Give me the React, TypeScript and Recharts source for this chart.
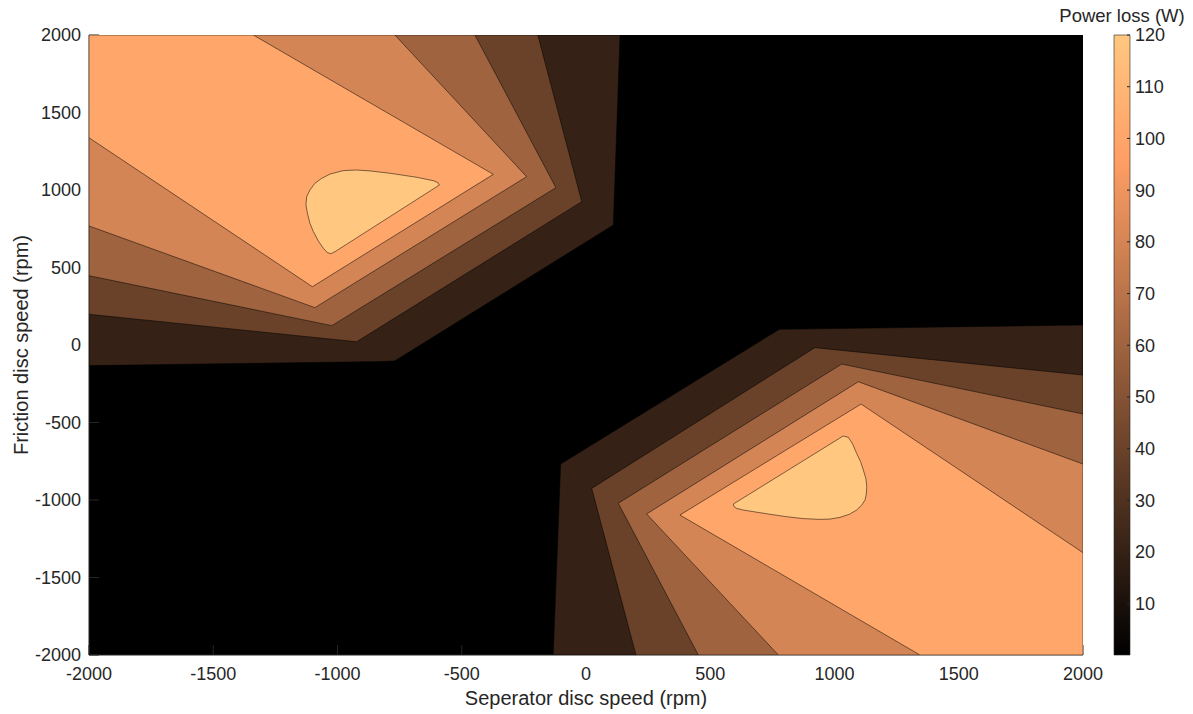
import React from 'react';
import { ComposedChart, Scatter, XAxis, YAxis, CartesianGrid, ReferenceArea } from 'recharts';

const FONT = '"Liberation Sans", Arial, Helvetica, sans-serif';
const AXIS_COLOR = '#262626';

const xTicks = [-2000, -1500, -1000, -500, 0, 500, 1000, 1500, 2000];
const yTicks = [-2000, -1500, -1000, -500, 0, 500, 1000, 1500, 2000];
const colorbarTicks = [10, 20, 30, 40, 50, 60, 70, 80, 90, 100, 110, 120];
const colorbarDomain = [0.1, 120];

// copper colormap, one colour per filled band (band 0 = black background)
const bandColors = ['#000000', '#352115', '#6A422A', '#9F643F', '#D48555', '#FFA66A', '#FFC77F'];

// contour regions (value >= level), in rpm
const level1TopLeft = [
  { x: -2000, y: -133 }, { x: -830, y: -107 }, { x: -770, y: -103 }, { x: 110, y: 774 },
  { x: 137, y: 2000 }, { x: -2000, y: 2000 }, { x: -2000, y: -133 },
];
const level1BottomRight = [
  { x: -132, y: -2000 }, { x: -102, y: -768 }, { x: 778, y: 101 }, { x: 2000, y: 129 },
  { x: 2000, y: -2000 }, { x: -132, y: -2000 },
];
const level2TopLeft = [
  { x: -2000, y: 198 }, { x: -923, y: 21 }, { x: -17, y: 925 }, { x: -194, y: 2000 },
  { x: -2000, y: 2000 }, { x: -2000, y: 198 },
];
const level2BottomRight = [
  { x: 201, y: -2000 }, { x: 23, y: -925 }, { x: 921, y: -17 }, { x: 2000, y: -194 },
  { x: 2000, y: -2000 }, { x: 201, y: -2000 },
];
const level3TopLeft = [
  { x: -2000, y: 447 }, { x: -1023, y: 125 }, { x: -121, y: 1015 }, { x: -447, y: 2000 },
  { x: -2000, y: 2000 }, { x: -2000, y: 447 },
];
const level3BottomRight = [
  { x: 452, y: -2000 }, { x: 130, y: -1021 }, { x: 1029, y: -123 }, { x: 2000, y: -445 },
  { x: 2000, y: -2000 }, { x: 452, y: -2000 },
];
const level4TopLeft = [
  { x: -2000, y: 768 }, { x: -1091, y: 241 }, { x: -239, y: 1086 }, { x: -769, y: 2000 },
  { x: -2000, y: 2000 }, { x: -2000, y: 768 },
];
const level4BottomRight = [
  { x: 774, y: -2000 }, { x: 244, y: -1090 }, { x: 1096, y: -237 }, { x: 2000, y: -768 },
  { x: 2000, y: -2000 }, { x: 774, y: -2000 },
];
const level5TopLeft = [
  { x: -2000, y: 1337 }, { x: -1101, y: 376 }, { x: -373, y: 1101 }, { x: -1339, y: 2000 },
  { x: -2000, y: 2000 }, { x: -2000, y: 1337 },
];
const level5BottomRight = [
  { x: 1344, y: -2000 }, { x: 378, y: -1097 }, { x: 1107, y: -381 }, { x: 2000, y: -1340 },
  { x: 2000, y: -2000 }, { x: 1344, y: -2000 },
];
const level6TopLeft = [
  { x: -590, y: 1032 }, { x: -596, y: 1047 }, { x: -614, y: 1060 }, { x: -681, y: 1082 },
  { x: -789, y: 1108 }, { x: -869, y: 1123 }, { x: -923, y: 1129 }, { x: -977, y: 1125 },
  { x: -1030, y: 1103 }, { x: -1064, y: 1075 }, { x: -1091, y: 1043 }, { x: -1111, y: 1000 },
  { x: -1124, y: 957 }, { x: -1127, y: 903 }, { x: -1121, y: 850 }, { x: -1111, y: 785 },
  { x: -1097, y: 731 }, { x: -1077, y: 671 }, { x: -1057, y: 624 }, { x: -1041, y: 596 },
  { x: -1027, y: 589 }, { x: -1010, y: 602 }, { x: -590, y: 1032 },
];
const level6BottomRight = [
  { x: 1035, y: -587 }, { x: 1056, y: -596 }, { x: 1073, y: -639 }, { x: 1089, y: -699 },
  { x: 1105, y: -753 }, { x: 1116, y: -806 }, { x: 1126, y: -860 }, { x: 1130, y: -914 },
  { x: 1128, y: -961 }, { x: 1123, y: -1000 }, { x: 1109, y: -1034 }, { x: 1089, y: -1065 },
  { x: 1060, y: -1092 }, { x: 1022, y: -1112 }, { x: 982, y: -1123 }, { x: 942, y: -1125 },
  { x: 874, y: -1120 }, { x: 808, y: -1108 }, { x: 740, y: -1092 }, { x: 673, y: -1075 },
  { x: 633, y: -1065 }, { x: 606, y: -1054 }, { x: 596, y: -1043 }, { x: 593, y: -1026 },
  { x: 1035, y: -587 },
];

const contours = [
  { id: 'l1tl', data: level1TopLeft, band: 1 },
  { id: 'l1br', data: level1BottomRight, band: 1 },
  { id: 'l2tl', data: level2TopLeft, band: 2 },
  { id: 'l2br', data: level2BottomRight, band: 2 },
  { id: 'l3tl', data: level3TopLeft, band: 3 },
  { id: 'l3br', data: level3BottomRight, band: 3 },
  { id: 'l4tl', data: level4TopLeft, band: 4 },
  { id: 'l4br', data: level4BottomRight, band: 4 },
  { id: 'l5tl', data: level5TopLeft, band: 5 },
  { id: 'l5br', data: level5BottomRight, band: 5 },
  { id: 'l6tl', data: level6TopLeft, band: 6 },
  { id: 'l6br', data: level6BottomRight, band: 6 },
];

const colorbarData = [{ x: 0, v: 0.1 }, { x: 1, v: 120 }];

const EmptyShape = () => <g />;

const tickStyle = { fontSize: 18, fill: AXIS_COLOR, fontFamily: FONT };

export default function App() {
  return (
    <div style={{ position: 'absolute', left: 0, top: 0, width: 1193, height: 714, background: '#fff', fontFamily: FONT }}>
      <div style={{ position: 'absolute', left: 0, top: 0 }}>
        <ComposedChart width={1193} height={714} margin={{ top: 35, right: 110, bottom: 0, left: 0 }} style={{ fontFamily: FONT }}>
          <CartesianGrid xAxisId="main" yAxisId="main" fill="#000000" horizontal={false} vertical={false} />
          {contours.map((c) => (
            <Scatter
              key={c.id}
              xAxisId="main"
              yAxisId="main"
              data={c.data}
              isAnimationActive={false}
              legendType="none"
              shape={EmptyShape}
              lineType="joint"
              line={{ fill: bandColors[c.band], stroke: '#000000', strokeWidth: 0.6, strokeOpacity: 0.85, strokeLinejoin: 'round' }}
            />
          ))}
          <XAxis
            xAxisId="main"
            dataKey="x"
            type="number"
            domain={[-2000, 2000]}
            ticks={xTicks}
            allowDataOverflow
            height={59}
            tickSize={-10}
            tickMargin={22}
            tick={tickStyle}
            stroke={AXIS_COLOR}
            tickLine={{ stroke: AXIS_COLOR }}
            axisLine={{ stroke: AXIS_COLOR }}
            label={{ value: 'Seperator disc speed (rpm)', position: 'insideBottom', offset: 9, fill: AXIS_COLOR, fontSize: 20, fontFamily: FONT }}
          />
          <XAxis
            xAxisId="top"
            orientation="top"
            dataKey="x"
            type="number"
            domain={[-2000, 2000]}
            ticks={xTicks}
            allowDataOverflow
            height={0}
            tickSize={-10}
            tickFormatter={() => ''}
            stroke={AXIS_COLOR}
            tickLine={{ stroke: AXIS_COLOR }}
            axisLine={{ stroke: AXIS_COLOR }}
          />
          <YAxis
            yAxisId="main"
            dataKey="y"
            type="number"
            domain={[-2000, 2000]}
            ticks={yTicks}
            allowDataOverflow
            width={89}
            tickSize={-10}
            tickMargin={18}
            tick={tickStyle}
            stroke={AXIS_COLOR}
            tickLine={{ stroke: AXIS_COLOR }}
            axisLine={{ stroke: AXIS_COLOR }}
            label={{ value: 'Friction disc speed (rpm)', angle: -90, position: 'insideLeft', offset: 21, fill: AXIS_COLOR, fontSize: 20, fontFamily: FONT, style: { textAnchor: 'middle' } }}
          />
          <YAxis
            yAxisId="right"
            orientation="right"
            dataKey="y"
            type="number"
            domain={[-2000, 2000]}
            ticks={yTicks}
            allowDataOverflow
            width={0}
            tickSize={-10}
            tickFormatter={() => ''}
            stroke={AXIS_COLOR}
            tickLine={{ stroke: AXIS_COLOR }}
            axisLine={{ stroke: AXIS_COLOR }}
          />
        </ComposedChart>
      </div>
      <div style={{ position: 'absolute', left: 1040, top: 0 }}>
        <ComposedChart width={153} height={714} data={colorbarData} margin={{ top: 35, right: 0, bottom: 59, left: 74 }} style={{ fontFamily: FONT }}>
          <defs>
            <linearGradient id="copperGrad" x1="0" y1="1" x2="0" y2="0">
              <stop offset="0" stopColor="#000000" />
              <stop offset="0.8" stopColor="#FF9F65" />
              <stop offset="1" stopColor="#FFC77F" />
            </linearGradient>
          </defs>
          <XAxis xAxisId="cb" dataKey="x" type="number" domain={[0, 1]} hide />
          <YAxis
            yAxisId="cb"
            orientation="right"
            dataKey="v"
            type="number"
            domain={colorbarDomain}
            ticks={colorbarTicks}
            allowDataOverflow
            width={63}
            tickSize={-3}
            tickMargin={8}
            tick={tickStyle}
            axisLine={false}
            tickLine={{ stroke: AXIS_COLOR }}
          />
          <ReferenceArea
            xAxisId="cb"
            yAxisId="cb"
            x1={0}
            x2={1}
            y1={colorbarDomain[0]}
            y2={colorbarDomain[1]}
            fill="url(#copperGrad)"
            fillOpacity={1}
            stroke={AXIS_COLOR}
            strokeWidth={0.6}
            label={{ value: 'Power loss (W)', position: 'top', offset: 13, fill: AXIS_COLOR, fontSize: 18.5, fontFamily: FONT }}
          />
        </ComposedChart>
      </div>
    </div>
  );
}
